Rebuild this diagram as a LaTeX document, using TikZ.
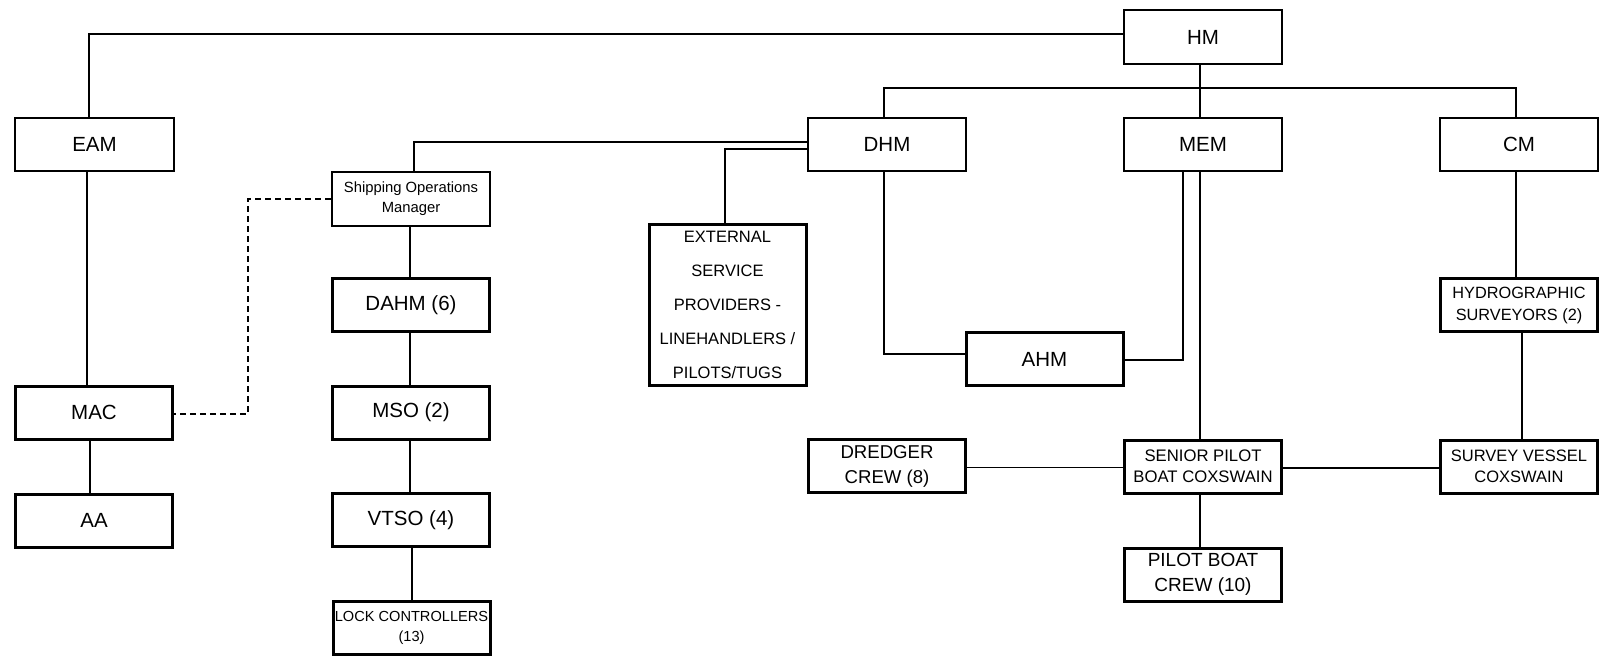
\documentclass[tikz,border=0pt]{standalone}
\usepackage{fontspec}
\setmainfont{Liberation Sans}
\newcommand\fz[2]{\fontsize{#1}{#2}\selectfont}
\begin{document}
\begin{tikzpicture}[x=1pt,y=-1pt,
  bx/.style={draw, inner sep=0pt, align=center, line width=3pt, minimum width=157pt, minimum height=53pt, font=\fz{20.5}{24}},
  tbx/.style={bx, line width=1.6pt, minimum width=158.5pt, minimum height=53.5pt},
  ln/.style={line width=1.5pt},
  dl/.style={ln, dash pattern=on 6pt off 4pt}]
\useasboundingbox (0,0) rectangle (1600,656);

\node[tbx] (hm) at (1203,37) {HM};
\node[tbx] (eam) at (94.5,144.5) {EAM};
\node[tbx] (dhm) at (887,144.5) {DHM};
\node[tbx] (mem) at (1203,144.5) {MEM};
\node[tbx] (cm) at (1519,144.5) {CM};
\node[tbx, font=\fz{14.8}{20}] (som) at (411,199) {Shipping Operations\\Manager};
\node[bx, minimum height=161pt, font=\fz{16.5}{34}] (ext) at (727.5,305) {EXTERNAL\\SERVICE\\PROVIDERS -\\LINEHANDLERS /\\PILOTS/TUGS};
\node[bx] (dahm) at (411,305) {DAHM (6)};
\node[bx, font=\fz{16.3}{22}] (hydro) at (1519,305) {HYDROGRAPHIC\\SURVEYORS (2)};
\node[bx] (ahm) at (1044.5,359) {AHM};
\node[bx] (mac) at (94,412.5) {MAC};
\node[bx] (mso) at (411,412.5) {MSO (2)};
\node[bx, font=\fz{18.6}{25}] (dredger) at (887,466) {DREDGER\\CREW (8)};
\node[bx, font=\fz{16.7}{21}] (senior) at (1203,466.5) {SENIOR PILOT\\BOAT COXSWAIN};
\node[bx, font=\fz{16.5}{21}] (survey) at (1519,466.5) {SURVEY VESSEL\\COXSWAIN};
\node[bx] (aa) at (94,520.5) {AA};
\node[bx] (vtso) at (411,520) {VTSO (4)};
\node[bx, font=\fz{19}{25}] (crew) at (1203,574.5) {PILOT BOAT\\CREW (10)};
\node[bx, font=\fz{14.6}{20}] (lock) at (411.5,627.5) {LOCK CONTROLLERS\\(13)};

\draw[ln] ([yshift=3pt]hm.west) -| ([xshift=-5.5pt]eam.north);
\draw[ln] ([xshift=-3pt]hm.south) -- ([xshift=-3pt]mem.north);
\draw[ln] ([xshift=-3pt]dhm.north) -- ++(0,-29) -| ([xshift=-3pt]cm.north);
\draw[ln] ([yshift=2.5pt]dhm.west) -| ([xshift=3pt]som.north);
\draw[ln] ([yshift=-4.5pt]dhm.west) -| ([xshift=-2.5pt]ext.north);
\draw[ln] ([xshift=-3pt]dhm.south) |- ([yshift=5pt]ahm.west);
\draw[ln] ([xshift=-20pt]mem.south) |- ([yshift=-1pt]ahm.east);
\draw[ln] ([xshift=-3pt]mem.south) -- ([xshift=-3pt]senior.north);
\draw[ln] ([xshift=-3pt]cm.south) -- ([xshift=-3pt]hydro.north);
\draw[ln] ([xshift=3pt]hydro.south) -- ([xshift=3pt]survey.north);
\draw[ln] ([yshift=-1.5pt]dredger.east) -- ([yshift=-1.5pt]dredger.east -| senior.west);
\draw[ln] ([yshift=-1.5pt]senior.east) -- ([yshift=-1.5pt]survey.west);
\draw[ln] ([xshift=-3pt]senior.south) -- ([xshift=-3pt]crew.north);
\draw[ln] ([xshift=-7.5pt]eam.south) -- ([xshift=-7.5pt]eam.south |- mac.north);
\draw[ln] ([xshift=-4pt]mac.south) -- ([xshift=-4pt]aa.north);
\draw[ln] ([xshift=-1pt]som.south) -- ([xshift=-1pt]dahm.north);
\draw[ln] ([xshift=-1pt]dahm.south) -- ([xshift=-1pt]mso.north);
\draw[ln] ([xshift=-1pt]mso.south) -- ([xshift=-1pt]vtso.north);
\draw[ln] ([xshift=1pt]vtso.south) -- ([xshift=1pt]vtso.south |- lock.north);
\coordinate (dk) at (248,300);
\draw[dl] (som.west) -| (dk) |- ([yshift=-1.5pt]mac.east);
\end{tikzpicture}
\end{document}
